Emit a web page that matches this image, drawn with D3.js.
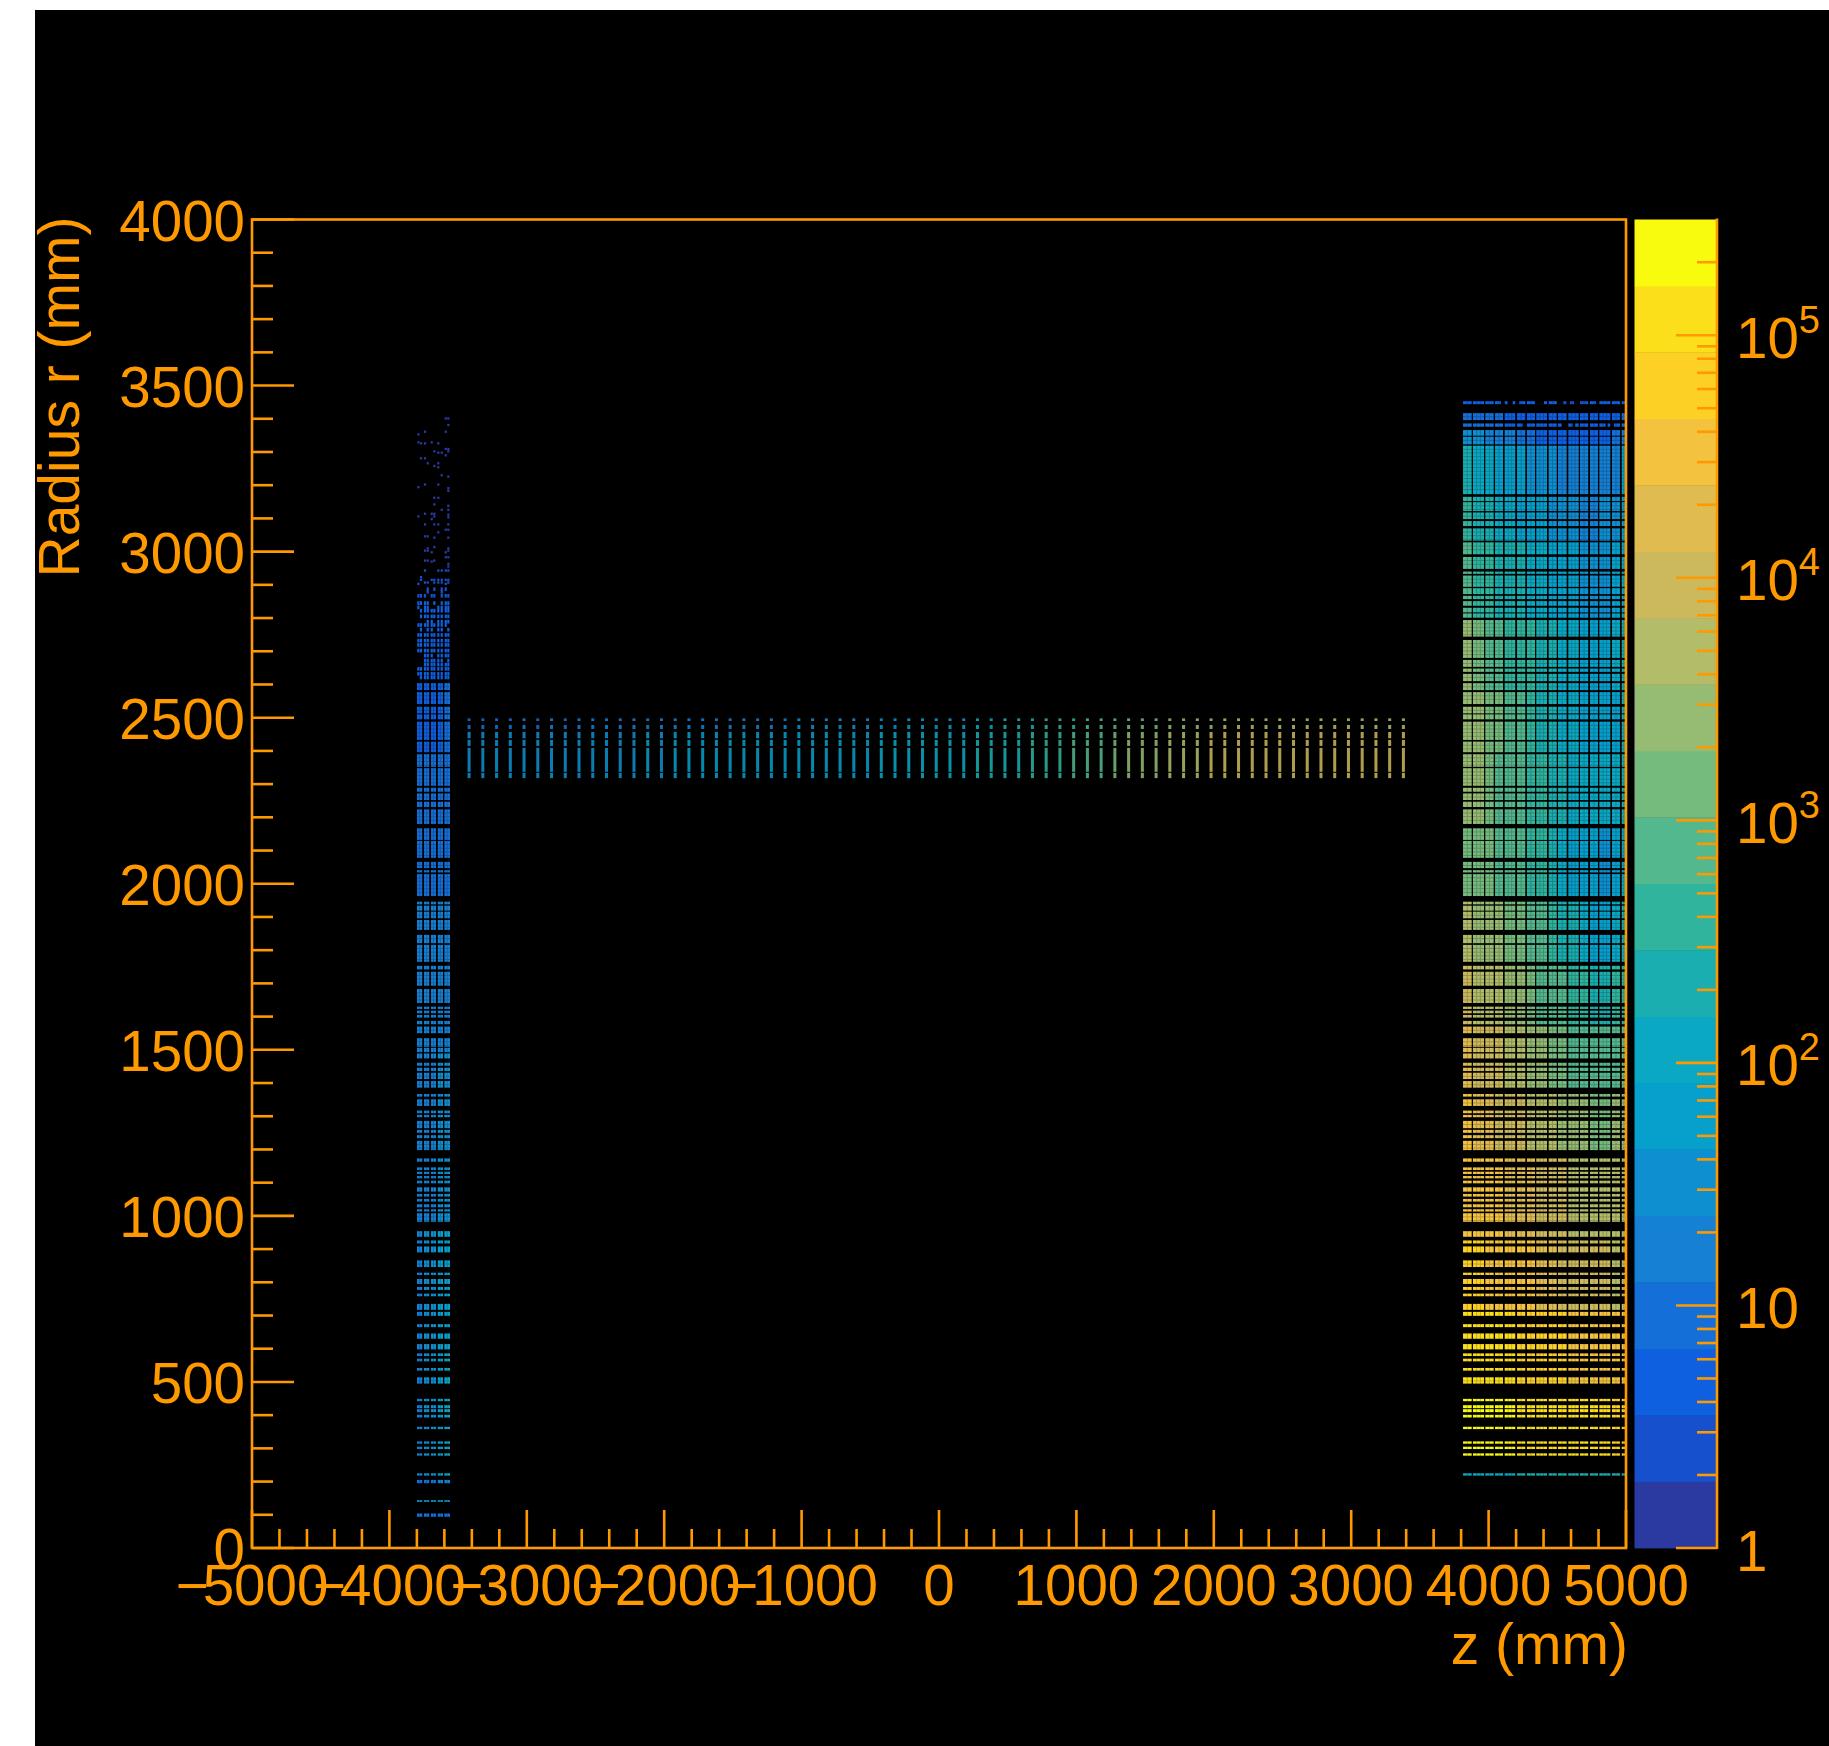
<!DOCTYPE html>
<html>
<head>
<meta charset="utf-8">
<script src="https://cdnjs.cloudflare.com/ajax/libs/d3/7.8.5/d3.min.js"></script>
<style>
  body { margin: 0; background: #fff; }
  text { font-family: "Liberation Sans", Arial, sans-serif; fill: #ff9900; }
</style>
</head>
<body>
<div id="vis"></div>
<script>
// r layers of the detector, [top, bottom] in mm
const R_BANDS = [
  [3453,3444],[3417,3396],[3386,3376],[3366,3349],[3346,3323],[3319,3173],[3165,3152],[3149,3122],
  [3118,3098],[3092,3077],[3070,3033],[3028,2992],[2984,2948],[2940,2933],[2928,2894],[2890,2872],
  [2867,2857],[2851,2837],[2831,2817],[2814,2801],[2794,2744],[2734,2680],[2674,2653],[2648,2638],
  [2632,2610],[2604,2583],[2577,2541],[2533,2513],[2510,2495],[2488,2433],[2428,2396],[2390,2352],
  [2348,2295],[2289,2277],[2272,2252],[2247,2231],[2224,2180],[2167,2132],[2129,2078],[2066,2047],
  [2041,2034],[2029,1963],[1946,1938],[1934,1919],[1916,1896],[1891,1861],[1846,1821],[1816,1765],
  [1753,1742],[1735,1693],[1683,1641],[1630,1623],[1618,1610],[1605,1597],[1587,1577],[1570,1550],
  [1535,1509],[1506,1493],[1489,1474],[1461,1452],[1446,1436],[1431,1412],[1406,1386],[1367,1359],
  [1351,1331],[1317,1309],[1304,1297],[1286,1264],[1259,1250],[1243,1234],[1226,1198],[1173,1163],
  [1146,1138],[1133,1126],[1120,1113],[1106,1098],[1086,1073],[1066,1058],[1051,1043],[1035,1026],
  [1020,1013],[1008,982],[954,937],[926,917],[908,890],[866,846],[829,822],[810,795],
  [786,777],[766,758],[735,717],[711,699],[674,665],[646,630],[614,598],[586,578],
  [570,562],[542,534],[514,495],[449,442],[430,421],[418,409],[401,393],[365,358],
  [321,314],[305,298],[285,278],[225,218]
];

// z strips of the +z endcap, [start, end] in mm
const ENDCAP_STRIPS = [
  [3814,3877],[3886,3967],[3976,4037],[4047,4105],[4117,4194],[4207,4267],[4279,4338],[4347,4425],
  [4437,4496],[4505,4568],[4580,4656],[4665,4725],[4738,4796],[4806,4886],[4898,4956],[4969,5000]
];

// empty stretches in the two sparse top rows of the endcap: r top, r bottom, z start, z end
const ENDCAP_HOLES = [
  [3453,3444,4090,4114],[3453,3444,4138,4175],[3453,3444,4201,4223],[3453,3444,4337,4403],
  [3453,3444,4500,4544],[3453,3444,4568,4592],[3453,3444,4621,4665],[3453,3444,4781,4803],
  [3386,3376,4248,4272],[3386,3376,4532,4573],[3386,3376,4612,4629],[3386,3376,4852,4866],[3386,3376,4888,4912]
];

// faint cell edges inside the endcap strips
const ENDCAP_CELL_EDGES = [3845,3913,3940,4006,4076,4143,4168,4237,4308,4373,4399,4466,4536,4605,4630,4695,4767,4833,4859,4927,4985];

// upper r limit (mm) of each group of rows in ENDCAP_LOG_COUNTS
const ENDCAP_GROUP_TOPS = [3460,3420,3370,3320,3170,3030,2800,2600,2400,2180,1950,1760,1580,1380,1180,950,720,500,240];

// log10 of the hit count, one row per group, one value per z strip
const ENDCAP_LOG_COUNTS = [
  [.7,.7,.7,.7,.7,.6,.6,.6,.6,.5,.5,.5,.6,.6,.6,.7],
  [1.0,.95,.95,.9,.8,.8,.7,.7,.7,.7,.7,.7,.7,.7,.7,.9],
  [1.5,1.4,1.3,1.2,1.1,1.0,.95,.8,.8,.7,.7,.7,.7,.8,.9,1.2],
  [2.2,2.1,2.0,1.9,1.8,1.7,1.6,1.5,1.4,1.3,1.2,1.1,1.1,1.2,1.3,1.7],
  [2.5,2.3,2.2,2.1,2.0,1.9,1.8,1.7,1.6,1.5,1.4,1.3,1.3,1.4,1.5,1.9],
  [2.9,2.7,2.6,2.4,2.3,2.2,2.1,2.0,1.9,1.8,1.7,1.6,1.6,1.6,1.7,2.1],
  [3.4,3.2,3.0,2.9,2.7,2.6,2.5,2.3,2.2,2.1,2.0,1.9,1.9,1.9,2.0,2.3],
  [3.5,3.3,3.2,3.1,2.9,2.8,2.6,2.4,2.3,2.1,2.0,1.9,1.9,1.8,1.9,2.3],
  [3.4,3.3,3.2,3.0,2.9,2.8,2.6,2.5,2.3,2.2,2.1,2.0,2.0,2.0,2.1,2.4],
  [3.2,3.15,3.1,2.95,2.9,2.8,2.6,2.5,2.3,2.1,1.9,1.7,1.7,1.6,1.7,2.1],
  [3.6,3.5,3.4,3.3,3.2,3.1,2.9,2.8,2.6,2.4,2.3,2.1,1.9,1.9,2.0,2.3],
  [3.9,3.8,3.7,3.6,3.5,3.3,3.2,3.0,2.9,2.8,2.6,2.5,2.4,2.4,2.5,2.7],
  [4.2,4.1,4.0,3.9,3.8,3.6,3.5,3.4,3.2,3.1,3.0,2.9,2.8,2.8,2.9,3.1],
  [4.4,4.3,4.2,4.1,4.0,3.9,3.8,3.7,3.6,3.5,3.4,3.3,3.2,3.2,3.3,3.4],
  [4.6,4.5,4.45,4.4,4.3,4.2,4.15,4.1,4.0,3.9,3.8,3.7,3.65,3.6,3.6,3.7],
  [4.8,4.7,4.65,4.6,4.55,4.5,4.4,4.3,4.2,4.1,4.0,3.95,3.9,3.85,3.8,3.9],
  [5.1,5.05,5.0,5.0,4.95,4.9,4.85,4.8,4.75,4.7,4.6,4.55,4.5,4.45,4.4,4.5],
  [5.35,5.35,5.35,5.35,5.3,5.2,5.15,5.1,5.1,5.1,5.05,5.0,5.0,4.95,4.85,4.85],
  [2.1,2.1,2.1,2.15,2.15,2.2,2.2,2.2,2.2,2.2,2.2,2.2,2.2,2.2,2.2,2.3]
];

// z strips of the -z block
const LEFT_STRIPS = [[-3799,-3761],[-3748,-3710],[-3697,-3661],[-3648,-3610],[-3600,-3559]];
const LEFT_GROUP_TOPS = [2620,2400,2000,1500,1000,600];
const LEFT_LOG_COUNTS = [
  [.7,.7,.7,.8,.9],
  [.9,.95,.95,1.0,1.0],
  [1.1,1.2,1.2,1.3,1.3],
  [1.25,1.3,1.35,1.5,1.55],
  [1.3,1.4,1.5,1.7,1.85],
  [1.3,1.4,1.5,1.7,2.0]
];

// three rows below the +z endcap that only the -z block has: top, bottom, log10 counts
const LEFT_LOW_BANDS = [[205,195],[144,139],[104,94]];
const LEFT_LOW_COUNTS = [[.95,1.0,1.0,1.1,1.2],[1.7,1.7,1.7,1.9,1.9],[.9,.9,.9,.9,.9]];

// single cells in the thin upper part of the -z block
const HIT_COLUMNS = [-3789,-3770,-3741,-3721,-3692,-3673,-3644,-3619,-3590,-3571];
const HIT_ROWS = [
  [3401,[8,9]],[3381,[9]],[3361,[2,8]],[3353,[0]],[3329,[0,4]],[3326,[1,2,6]],[3309,[8,9]],[3302,[5,9]],
  [3298,[6,7]],[3290,[8]],[3281,[1,2]],[3266,[3,6]],[3258,[5]],[3254,[6]],[3230,[7]],[3226,[9]],
  [3202,[2,6]],[3194,[0]],[3191,[9]],[3183,[9]],[3162,[5,6]],[3142,[5]],[3138,[9]],[3126,[7,9]],
  [3114,[2,4,5]],[3106,[0,5]],[3111,[9]],[3103,[9]],[3098,[4]],[3082,[2,5,6,9]],[3066,[8,9]],[3058,[6]],
  [3046,[2,3]],[3042,[5,9]],[3014,[5]],[3010,[3,9]],[3003,[2,3,9]],[2998,[4,8]],[2983,[8,9]],[2973,[2,3,5]],
  [2970,[4]],[2963,[9]],[2955,[9]],[2943,[2,6,7,8,9]],[2923,[1]],[2915,[1,4,5,6,7,8,9]],[2907,[2,3,5,6,7,9]],
  [2903,[0,8]],[2887,[3,5,7,8]],[2879,[3,7]],[2867,[0,1,2,4,5,7,8,9]],[2845,[0,1,2,3,5,7,8,9]],
  [2832,[0,2,3,6,7,8,9]],[2822,[1,2,3,4,5,6,7,8,9]],[2805,[1,2,3,4,5,6,7,8,9]],[2789,[3,4,6,7,8,9]],
  [2779,[0,1,2,3,4,5,6,7,8]],[2765,[1,3,4,6,7,9]],[2749,[0,1,2,3,4,5,6,7,8,9]],[2732,[0,1,2,3,4,5,6,7,8,9]],
  [2719,[0,1,2,3,4,5,6,7,8,9]],[2702,[0,1,2,3,4,5,6,7,8,9]],[2687,[2,3,4,6,7,8,9]],[2672,[2,3,4,5,6,7,9]],
  [2660,[2,3,4,5,6,7,8,9]],[2647,[0,1,2,3,4,5,6,7,8,9]],[2632,[0,1,2,3,4,5,6,7,8,9]],[2621,[1,2,3,4,5,6,7,8,9]]
];
const HIT_LOG_LIMITS = [[2950,.1],[2850,.35],[0,.6]];

// barrel: one thin column every 100 mm
const BARREL_Z = [-3420,-3320,-3220,-3120,-3020,-2920,-2820,-2720,-2620,-2520,-2420,-2320,-2220,-2120,-2020,-1920,-1820,-1720,-1620,-1520,-1420,-1320,-1220,-1120,-1020,
  -920,-820,-720,-620,-520,-420,-320,-220,-120,-20,80,180,280,380,480,580,680,780,880,980,
  1080,1180,1280,1380,1480,1580,1680,1780,1880,1980,2080,2180,2280,2380,2480,2580,2680,2780,2880,2980,3080,3180,3280,3380];
const BARREL_INNER_ROWS = [[2457,2438],[2433,2415],[2409,2337],[2334,2318]];
const BARREL_OUTER_ROWS = [[2498,2490],[2478,2466]];
const BARREL_INNER_COUNTS = [1.45,1.5,1.55,1.5,1.55,1.5,1.55,1.55,1.6,1.55,1.6,1.6,1.6,1.65,1.6,1.65,1.65,1.7,1.65,1.7,1.7,1.75,1.7,1.75,1.8,
  1.8,1.85,1.85,1.9,1.9,1.95,1.95,2.0,2.0,2.05,2.1,2.15,2.2,2.3,2.35,2.4,2.5,2.6,2.7,2.8,
  2.9,3.0,3.15,3.3,3.4,3.5,3.6,3.7,3.8,3.85,3.9,3.95,4.0,4.0,4.05,4.05,4.1,4.1,4.1,4.1,4.1,4.05,4.0,4.0];
const BARREL_OUTER_COUNTS = [1.0,1.05,1.0,1.05,1.1,1.05,1.1,.95,1.1,1.1,1.1,1.15,1.1,1.15,1.15,1.2,1.2,1.25,1.2,1.3,1.3,1.3,1.35,1.35,1.4,
  1.4,1.45,1.5,1.5,1.55,1.6,1.6,1.7,1.7,1.8,1.85,1.9,2.0,2.1,2.2,2.3,2.4,2.5,2.6,2.7,
  2.8,2.9,3.0,3.05,3.1,3.2,3.3,3.35,3.4,3.5,3.6,3.6,3.65,3.7,3.7,3.75,3.75,3.8,3.8,3.8,3.75,3.75,3.7,3.7];

// 20 colour bins of the palette, bottom to top
const PALETTE = ["#2a3aa0","#1650cc","#0e60e0","#1470d8","#1580d4","#0e90d0","#07a0cc","#0ba8c4","#1aaeb0","#30b49e",
  "#54b88e","#76bb7e","#96bb72","#b3bc68","#ccb95c","#e0bc50","#f3c23e","#fdd026","#fbdf1a","#f9fb0e"];

// axis ticks
const X_MAJOR = [-5000,-4000,-3000,-2000,-1000,0,1000,2000,3000,4000,5000];
const Y_MAJOR = [0,500,1000,1500,2000,2500,3000,3500,4000];
const COLOR_DECADES = [1,10,100,1000,10000,100000];
const COLOR_MINOR = [2,3,4,5,6,7,8,9,20,30,40,50,60,70,80,90,200,300,400,500,600,700,800,900,
  2000,3000,4000,5000,6000,7000,8000,9000,20000,30000,40000,50000,60000,70000,80000,90000,200000];

const ORANGE = "#ff9900";
const LINE_WIDTH = 2.6;
const FRAME_WIDTH = 1829;
const FRAME_HEIGHT = 1746;
const MARGINS = {left: 252, right: 203, top: 219.5, bottom: 198};
const FONT_SIZE = 56.5;
const COLOR_MAX = 300000;

const FRAME = d3.select("#vis")
                .append("svg")
                  .attr("width", FRAME_WIDTH)
                  .attr("height", FRAME_HEIGHT)
                  .style("display", "block");

// black canvas, white sliver on the top and left
FRAME.append("rect")
       .attr("x", 35)
       .attr("y", 10)
       .attr("width", FRAME_WIDTH - 35)
       .attr("height", FRAME_HEIGHT - 10)
       .attr("fill", "#000");

const X_SCALE = d3.scaleLinear()
                  .domain([-5000, 5000])
                  .range([MARGINS.left, FRAME_WIDTH - MARGINS.right]);

const Y_SCALE = d3.scaleLinear()
                  .domain([0, 4000])
                  .range([FRAME_HEIGHT - MARGINS.bottom, MARGINS.top]);

const COLOR_SCALE = d3.scaleQuantize()
                      .domain([0, Math.log10(COLOR_MAX)])
                      .range(PALETTE);

const CELLS = FRAME.append("g");

// adds one cell of the histogram
function addCell(z0, z1, rTop, rBottom, logCount) {
  return CELLS.append("rect")
                .attr("x", X_SCALE(z0))
                .attr("y", Y_SCALE(rTop))
                .attr("width", X_SCALE(z1) - X_SCALE(z0))
                .attr("height", Y_SCALE(rBottom) - Y_SCALE(rTop))
                .attr("fill", COLOR_SCALE(logCount));
}

// picks the last group whose upper limit is still above r
function groupOf(tops, r) {
  let group = 0;
  tops.forEach((top, i) => { if (top >= r) { group = i; } });
  return group;
}

// +z endcap
R_BANDS.forEach((band) => {
  const counts = ENDCAP_LOG_COUNTS[groupOf(ENDCAP_GROUP_TOPS, band[0])];
  ENDCAP_STRIPS.forEach((strip, i) => addCell(strip[0], strip[1], band[0], band[1], counts[i]));
});

// holes in the top rows
ENDCAP_HOLES.forEach((hole) => {
  addCell(hole[2], hole[3], hole[0] + 1, hole[1] - 1, 0).attr("fill", "#000");
});

// -z block, full rows only up to about 2610 mm
R_BANDS.filter((band) => band[0] <= 2610).forEach((band) => {
  const counts = LEFT_LOG_COUNTS[groupOf(LEFT_GROUP_TOPS, band[0])];
  LEFT_STRIPS.forEach((strip, i) => addCell(strip[0], strip[1], band[0], band[1], counts[i]));
});
LEFT_LOW_BANDS.forEach((band, b) => {
  LEFT_STRIPS.forEach((strip, i) => addCell(strip[0], strip[1], band[0], band[1], LEFT_LOW_COUNTS[b][i]));
});

// -z block, single cells higher up, taller where the rows merge
HIT_ROWS.forEach((row) => {
  const logCount = HIT_LOG_LIMITS.find((limit) => row[0] >= limit[0])[1];
  const halfHeight = row[0] < 2900 ? 5.5 : 3.5;
  row[1].forEach((col) => {
    addCell(HIT_COLUMNS[col] - 8, HIT_COLUMNS[col] + 8, row[0] + halfHeight, row[0] - halfHeight, logCount);
  });
});

// barrel
BARREL_Z.forEach((z, i) => {
  BARREL_OUTER_ROWS.forEach((row) => addCell(z - 11, z + 11, row[0], row[1], BARREL_OUTER_COUNTS[i]).attr("opacity", 0.85));
  BARREL_INNER_ROWS.forEach((row) => addCell(z - 11, z + 11, row[0], row[1], BARREL_INNER_COUNTS[i]).attr("opacity", 0.85));
});

// faint cell edges over the endcap, they only show on coloured cells
const EDGES = FRAME.append("g").attr("fill", "#000").attr("opacity", 0.22);

ENDCAP_CELL_EDGES.forEach((z) => {
  EDGES.append("rect")
         .attr("x", X_SCALE(z) - 0.5)
         .attr("y", Y_SCALE(3460))
         .attr("width", 1)
         .attr("height", Y_SCALE(210) - Y_SCALE(3460));
});

R_BANDS.filter((band) => band[0] - band[1] > 18).forEach((band) => {
  d3.range(band[0] - 11, band[1] + 3, -11).forEach((r) => {
    EDGES.append("rect")
           .attr("x", X_SCALE(3814))
           .attr("y", Y_SCALE(r) - 0.5)
           .attr("width", X_SCALE(5000) - X_SCALE(3814))
           .attr("height", 1);
    if (band[0] <= 2610) {
      EDGES.append("rect")
             .attr("x", X_SCALE(-3799))
             .attr("y", Y_SCALE(r) - 0.5)
             .attr("width", X_SCALE(-3559) - X_SCALE(-3799))
             .attr("height", 1);
    }
  });
});

// same for the -z block
LEFT_STRIPS.forEach((strip) => {
  EDGES.append("rect")
         .attr("x", X_SCALE((strip[0] + strip[1]) / 2) - 0.5)
         .attr("y", Y_SCALE(2610))
         .attr("width", 1)
         .attr("height", Y_SCALE(90) - Y_SCALE(2610));
});

// plot frame
FRAME.append("rect")
       .attr("x", X_SCALE(-5000))
       .attr("y", Y_SCALE(4000))
       .attr("width", X_SCALE(5000) - X_SCALE(-5000))
       .attr("height", Y_SCALE(0) - Y_SCALE(4000))
       .attr("fill", "none")
       .attr("stroke", ORANGE)
       .attr("stroke-width", LINE_WIDTH);

// removes the domain path and recolours the tick lines of an axis
function styleAxis(g) {
  g.select(".domain").remove();
  g.selectAll("line").attr("stroke", ORANGE).attr("stroke-width", LINE_WIDTH);
}

// same, for axes that only draw ticks
function styleMinorAxis(g) {
  styleAxis(g);
  g.selectAll("text").remove();
}

const X_MINOR = d3.range(-5000, 5001, 200).filter((z) => !X_MAJOR.includes(z));
const Y_MINOR = d3.range(0, 4001, 100).filter((r) => !Y_MAJOR.includes(r));

// x axis, ticks point inwards
FRAME.append("g")
       .attr("transform", "translate(0," + Y_SCALE(0) + ")")
       .call(d3.axisBottom(X_SCALE).offset(0).tickValues(X_MINOR).tickSize(-19).tickFormat(""))
       .call(styleMinorAxis);

FRAME.append("g")
       .attr("transform", "translate(0," + Y_SCALE(0) + ")")
       .call(d3.axisBottom(X_SCALE).offset(0).tickValues(X_MAJOR).tickSize(-38).tickPadding(0).tickFormat(d3.format("d")))
       .call(styleAxis)
       .call((g) => g.selectAll("text")
                     .attr("y", 57)
                     .attr("dy", 0)
                     .style("font-size", FONT_SIZE + "px")
                     .attr("fill", ORANGE))
       // tightens the gap after the minus sign, the reference sets it closer
       .call((g) => g.selectAll("text")
                     .filter((d) => d < 0)
                     .each(function(d) {
                       const label = d3.select(this).text("");
                       label.append("tspan").text("\u2212");
                       label.append("tspan").attr("dx", -6).text(Math.abs(d));
                     }));

// y axis
FRAME.append("g")
       .attr("transform", "translate(" + X_SCALE(-5000) + ",0)")
       .call(d3.axisLeft(Y_SCALE).offset(0).tickValues(Y_MINOR).tickSize(-21).tickFormat(""))
       .call(styleMinorAxis);

FRAME.append("g")
       .attr("transform", "translate(" + X_SCALE(-5000) + ",0)")
       .call(d3.axisLeft(Y_SCALE).offset(0).tickValues(Y_MAJOR).tickSize(-42).tickFormat(d3.format("d")))
       .call(styleAxis)
       .call((g) => g.selectAll("text")
                     .attr("x", -7)
                     .attr("dy", 21)
                     .style("font-size", FONT_SIZE + "px")
                     .attr("fill", ORANGE));

// axis titles
FRAME.append("text")
       .attr("x", X_SCALE(5000) + 2)
       .attr("y", 1664)
       .attr("text-anchor", "end")
       .style("font-size", "57px")
       .text("z (mm)");

FRAME.append("text")
       .attr("transform", "translate(79," + (Y_SCALE(4000) - 3) + ") rotate(-90)")
       .attr("text-anchor", "end")
       .style("font-size", "57px")
       .text("Radius r (mm)");

// colour bar
const BAR_LEFT = 1634.5;
const BAR_RIGHT = 1717;

const BAR_SCALE = d3.scaleLog()
                    .domain([1, COLOR_MAX])
                    .range([Y_SCALE(0), Y_SCALE(4000)]);

const BAR_BINS = COLOR_SCALE.range().map((color) => COLOR_SCALE.invertExtent(color));

FRAME.append("g")
     .selectAll("rect")
     .data(BAR_BINS)
     .enter()
     .append("rect")
       .attr("x", BAR_LEFT)
       .attr("y", (d) => BAR_SCALE(Math.pow(10, d[1])))
       .attr("width", BAR_RIGHT - BAR_LEFT)
       .attr("height", (d) => BAR_SCALE(Math.pow(10, d[0])) - BAR_SCALE(Math.pow(10, d[1])) + 0.4)
       .attr("fill", (d) => COLOR_SCALE(d[0] + 0.01));

FRAME.append("line")
       .attr("x1", BAR_RIGHT)
       .attr("x2", BAR_RIGHT)
       .attr("y1", Y_SCALE(4000) - 1)
       .attr("y2", Y_SCALE(0) + 1)
       .attr("stroke", ORANGE)
       .attr("stroke-width", LINE_WIDTH);

FRAME.append("g")
       .attr("transform", "translate(" + BAR_RIGHT + ",0)")
       .call(d3.axisLeft(BAR_SCALE).offset(0).tickValues(COLOR_MINOR).tickSize(20).tickFormat(""))
       .call(styleMinorAxis);

FRAME.append("g")
       .attr("transform", "translate(" + BAR_RIGHT + ",0)")
       .call(d3.axisLeft(BAR_SCALE).offset(0).tickValues(COLOR_DECADES).tickSize(41).tickFormat(""))
       .call(styleMinorAxis);

// colour bar labels, exponents as raised tspans
COLOR_DECADES.forEach((value, i) => {
  const label = FRAME.append("text")
                       .attr("x", 1736)
                       .attr("y", BAR_SCALE(value) + 22.5)
                       .style("font-size", FONT_SIZE + "px")
                       .text(i === 0 ? "1" : "10");
  if (i > 1) {
    label.append("tspan")
           .attr("dy", -25)
           .style("font-size", "38px")
           .text(i);
  }
});
</script>
</body>
</html>
